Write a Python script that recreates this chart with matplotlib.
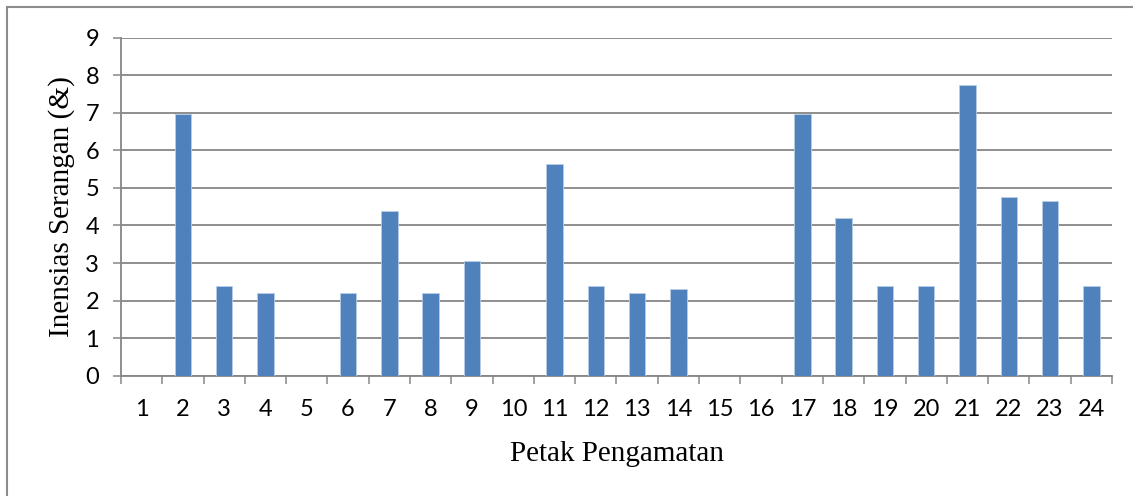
import numpy as np
import matplotlib
matplotlib.use("Agg")
import matplotlib.pyplot as plt
from matplotlib.patches import Rectangle

# Intensitas serangan per petak pengamatan
petak = [str(i) for i in range(1, 25)]
intensitas = [0, 6.98, 2.38, 2.20, 0, 2.20, 4.39, 2.20, 3.05, 0, 5.63, 2.38,
              2.20, 2.32, 0, 0, 6.98, 4.21, 2.38, 2.38, 7.73, 4.77, 4.65, 2.38]
y_ticks = list(range(0, 10))

GRID = "#868686"
BAR = "#4F81BD"

fig = plt.figure(figsize=(11.33, 4.96), dpi=100)
ax = fig.add_axes([121 / 1133, 1 - 375.7 / 496, (1112 - 121) / 1133, (375.7 - 37.7) / 496])

x = np.arange(1, len(petak) + 1)
ax.bar(x, intensitas, width=0.4, color=BAR, edgecolor="#B9CDE5", linewidth=0.6, zorder=3)

ax.set_xlim(0.5, len(petak) + 0.5)
ax.set_ylim(0, 9)

# y axis: gridlines and ticks
ax.set_yticks(y_ticks)
ax.yaxis.grid(True, color=GRID, linewidth=1.3, zorder=0)
ax.tick_params(axis="y", direction="out", length=5.8, width=1.1, color=GRID, pad=10,
               labelsize=17)

# x axis: tick marks between categories, labels at centres
ax.set_xticks(np.arange(0.5, len(petak) + 1, 1))
ax.set_xticklabels([])
ax.set_xticks(x, minor=True)
ax.set_xticklabels(petak, minor=True)
ax.tick_params(axis="x", which="major", direction="out", length=5.8, width=1.1, color=GRID)
ax.tick_params(axis="x", which="minor", length=0, pad=17, labelsize=17)

for lab in ax.get_xticklabels(minor=True) + ax.get_yticklabels():
    lab.set_fontfamily("Lato")

for side in ["top", "right"]:
    ax.spines[side].set_visible(False)
for side in ["left", "bottom"]:
    ax.spines[side].set_color(GRID)
    ax.spines[side].set_linewidth(1.3)

ax.set_xlabel("Petak Pengamatan", fontfamily="Liberation Serif", fontsize=21, labelpad=15)
ax.set_ylabel("Inensias Serangan (&)", fontfamily="Liberation Serif", fontsize=21, labelpad=7)

# chart frame
fig.patches.append(Rectangle((7 / 1133, -0.1), 1.2, 1 - 7 / 496 + 0.1,
                             transform=fig.transFigure, fill=False,
                             edgecolor="#8C8C8C", linewidth=1.5))

fig.savefig("out.png", dpi=100)
